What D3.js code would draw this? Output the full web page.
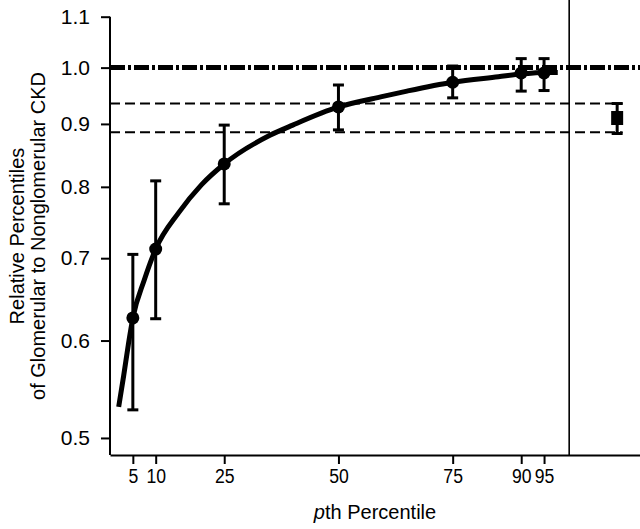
<!DOCTYPE html>
<html><head><meta charset="utf-8">
<script src="https://cdn.jsdelivr.net/npm/d3@7"></script>
<style>body{margin:0;background:#fff} svg{display:block}</style>
</head><body>
<svg id="c" width="640" height="529"></svg>
<script>
// ---- data ----
const percentiles = [5, 10, 25, 50, 75, 90, 95];
const estimates   = [0.626, 0.712, 0.835, 0.929, 0.973, 0.990, 0.990];
const lowerCI     = [0.527, 0.625, 0.775, 0.890, 0.945, 0.957, 0.958];
const upperCI     = [0.705, 0.809, 0.898, 0.968, 1.003, 1.017, 1.017];
const curveX = [1.9, 3, 4, 5, 7.5, 10, 15, 20, 25, 35, 40, 50, 60, 65, 75, 85, 90, 95, 98];
const curveY = [0.530, 0.562, 0.595, 0.626, 0.672, 0.712, 0.762, 0.803, 0.835, 0.881, 0.898, 0.929, 0.948, 0.957, 0.973, 0.983, 0.988, 0.991, 0.991];
const overallX = [111];
const overallEst = [0.910];
const overallLo = [0.884];
const overallHi = [0.935];
const refValue = [1.0];
const ciLines = [0.935, 0.886];
const dividerX = [100.5];
const xTicks = [5, 10, 25, 50, 75, 90, 95];
const yTicks = [0.5, 0.6, 0.7, 0.8, 0.9, 1.0, 1.1];

// ---- layout ----
const svg = d3.select("#c");
const font = "'Liberation Sans', Arial, Helvetica, sans-serif";
const x = d3.scaleLinear().domain([0, 116]).range([110, 640]);
const y = d3.scaleLog().domain([0.4843, 1.1]).range([455, 16.7]);

// reference dash-dot line at 1.0
svg.selectAll(".ref").data(refValue).join("line")
  .attr("x1", x(0)).attr("x2", x(116))
  .attr("y1", d => y(d)).attr("y2", d => y(d))
  .attr("stroke", "#000").attr("stroke-width", 5)
  .attr("stroke-dasharray", "15,3,3,3");

// dashed CI lines of overall estimate
svg.selectAll(".ci").data(ciLines).join("line")
  .attr("x1", x(0)).attr("x2", x(112.2))
  .attr("y1", d => y(d)).attr("y2", d => y(d))
  .attr("stroke", "#000").attr("stroke-width", 2)
  .attr("stroke-dasharray", "10,5");

// divider
svg.selectAll(".div").data(dividerX).join("line")
  .attr("x1", d => x(d)).attr("x2", d => x(d))
  .attr("y1", 0).attr("y2", 455)
  .attr("stroke", "#000").attr("stroke-width", 1.6);

// axes
const gy = svg.append("g").attr("transform", `translate(${x(0)},0)`)
  .call(d3.axisLeft(y).tickValues(yTicks).tickFormat(d3.format(".1f")).tickSize(9).tickSizeOuter(0).tickPadding(11));
const gx = svg.append("g").attr("transform", `translate(0,455)`)
  .call(d3.axisBottom(x).tickValues(xTicks).tickFormat(d3.format("d")).tickSize(9).tickSizeOuter(0).tickPadding(4));
[gx, gy].forEach(g => {
  g.selectAll("path,line").attr("stroke", "#000").attr("stroke-width", 2);
  g.selectAll("text").attr("font-family", font).attr("font-size", 21).attr("fill", "#000");
});
gx.selectAll("text").attr("font-size", 21).attr("transform", "scale(0.84,1)");
// extend y axis line up to top tick
gy.select(".domain").attr("d", `M0,${y(1.1)}V455`);

// fitted curve
const line = d3.line().x(d => x(d[0])).y(d => y(d[1])).curve(d3.curveMonotoneX);
svg.append("path").datum(curveX.map((v, i) => [v, curveY[i]]))
  .attr("d", line).attr("fill", "none").attr("stroke", "#000").attr("stroke-width", 5)
  .attr("stroke-linecap", "butt");

// error bars
const eb = svg.append("g");
percentiles.forEach((p, i) => {
  eb.append("line").attr("x1", x(p)).attr("x2", x(p)).attr("y1", y(lowerCI[i])).attr("y2", y(upperCI[i]))
    .attr("stroke", "#000").attr("stroke-width", 3);
  [lowerCI[i], upperCI[i]].forEach(v => eb.append("line")
    .attr("x1", x(p) - 5.5).attr("x2", x(p) + 5.5).attr("y1", y(v)).attr("y2", y(v))
    .attr("stroke", "#000").attr("stroke-width", 3));
});
svg.selectAll(".pt").data(percentiles).join("circle")
  .attr("cx", d => x(d)).attr("cy", (d, i) => y(estimates[i])).attr("r", 6.5).attr("fill", "#000");

// overall estimate
overallX.forEach((p, i) => {
  eb.append("line").attr("x1", x(p)).attr("x2", x(p)).attr("y1", y(overallLo[i])).attr("y2", y(overallHi[i]))
    .attr("stroke", "#000").attr("stroke-width", 3);
  [overallLo[i], overallHi[i]].forEach(v => eb.append("line")
    .attr("x1", x(p) - 5.5).attr("x2", x(p) + 5.5).attr("y1", y(v)).attr("y2", y(v))
    .attr("stroke", "#000").attr("stroke-width", 3));
  svg.append("rect").attr("x", x(p) - 6).attr("y", y(overallEst[i]) - 7)
    .attr("width", 12).attr("height", 14).attr("fill", "#000");
});

// labels
const xl = svg.append("text").attr("x", 375).attr("y", 519).attr("text-anchor", "middle")
  .attr("font-family", font).attr("font-size", 20);
xl.append("tspan").attr("font-style", "italic").text("p");
xl.append("tspan").text("th Percentile");

svg.append("text").attr("transform", "translate(24,236) rotate(-90)").attr("text-anchor", "middle")
  .attr("font-family", font).attr("font-size", 20).text("Relative Percentiles");
svg.append("text").attr("transform", "translate(45,236) rotate(-90)").attr("text-anchor", "middle")
  .attr("font-family", font).attr("font-size", 20).text("of Glomerular to Nonglomerular CKD");
</script>
</body></html>
